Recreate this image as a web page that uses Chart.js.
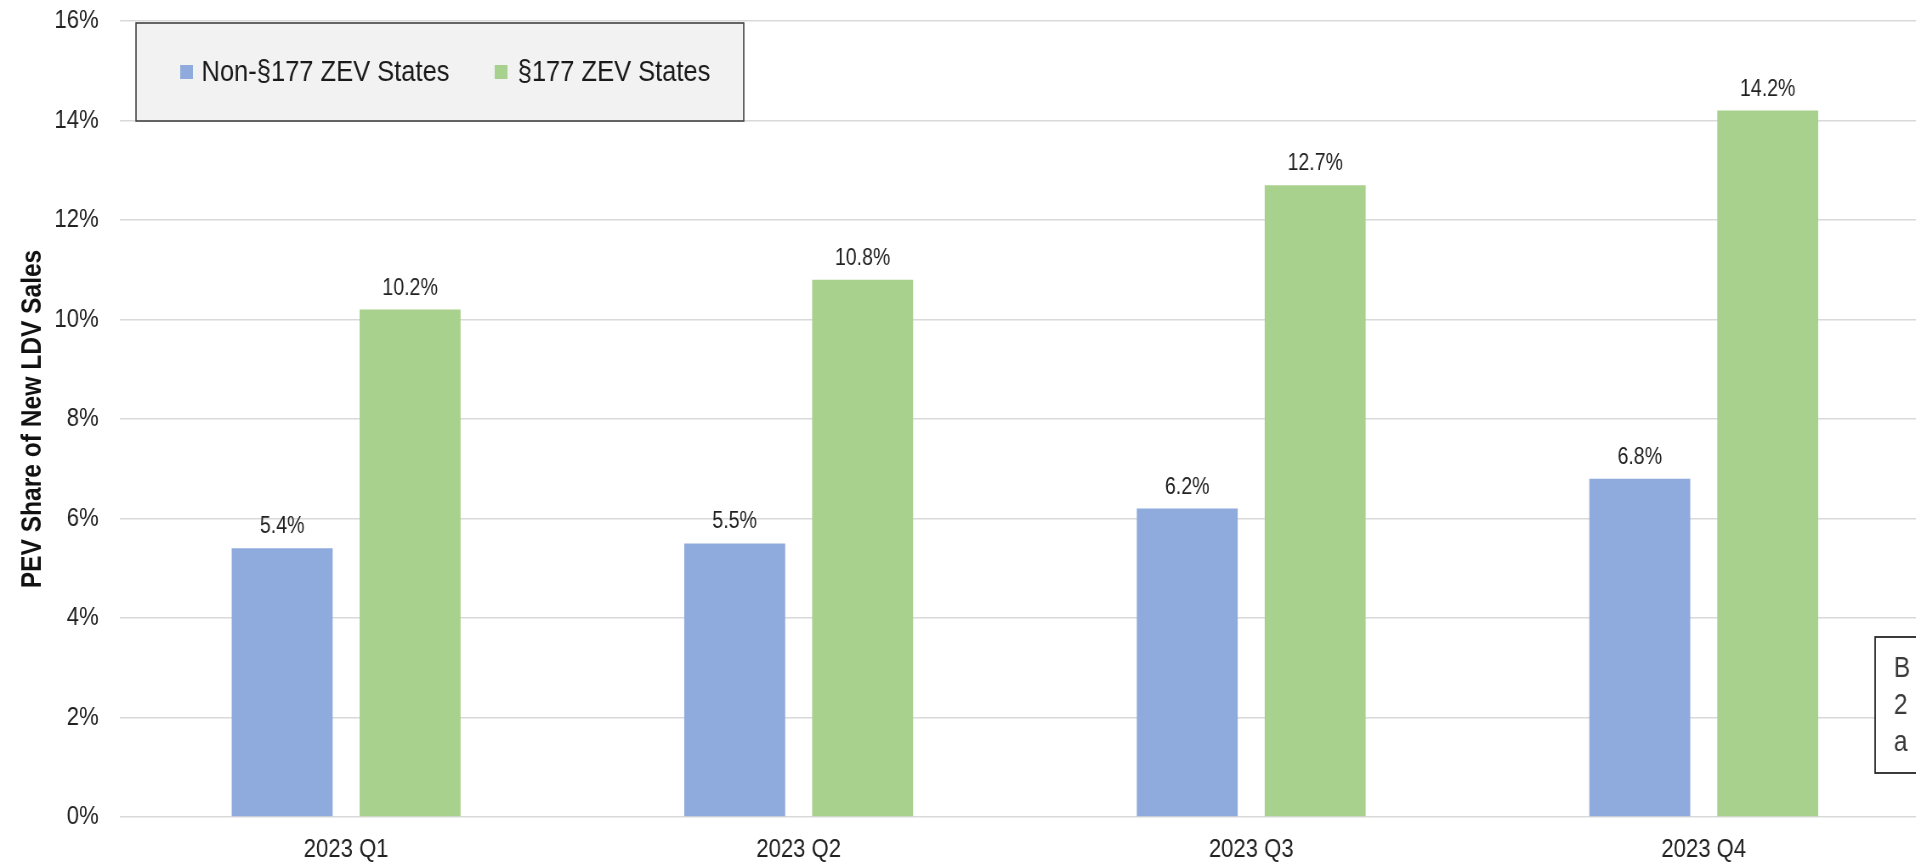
<!DOCTYPE html>
<html><head><meta charset="utf-8">
<script src="https://cdn.jsdelivr.net/npm/chart.js@4"></script>
<style>
html,body{margin:0;padding:0;overflow:hidden;background:#fff;width:1916px;height:862px}
#wrap{width:2276px;height:862px;position:absolute;left:0;top:0;transform:scaleX(0.85);transform-origin:0 0}
</style></head>
<body><div id="wrap"><canvas id="c"></canvas></div>
<script>
const categories = ['2023 Q1', '2023 Q2', '2023 Q3', '2023 Q4'];
const seriesNames = ['Non-§177 ZEV States', '§177 ZEV States'];
const nonZevValues = [5.4, 5.5, 6.2, 6.8];
const zevValues = [10.2, 10.8, 12.7, 14.2];
const yTickValues = [0, 2, 4, 6, 8, 10, 12, 14, 16];
const yAxisTitle = 'PEV Share of New LDV Sales';
const noteLines = ['B', '2', 'a'];

const SANS = '"Liberation Sans", Arial, sans-serif';

const overlayPlugin = {
  id: 'overlay',
  afterDatasetsDraw(chart) {
    const ctx = chart.ctx;
    ctx.save();
    // value labels
    ctx.font = '23px ' + SANS;
    ctx.fillStyle = '#222';
    ctx.textAlign = 'center';
    ctx.textBaseline = 'alphabetic';
    chart.data.datasets.forEach((ds, di) => {
      const meta = chart.getDatasetMeta(di);
      meta.data.forEach((bar, i) => {
        ctx.fillText(ds.data[i].toFixed(1) + '%', bar.x, bar.y - 15);
      });
    });
    // legend box
    const lx = 160, ly = 23, lw = 715, lh = 98;
    ctx.fillStyle = '#f2f2f2';
    ctx.fillRect(lx, ly, lw, lh);
    ctx.strokeStyle = '#404040';
    ctx.lineWidth = 1.6;
    ctx.strokeRect(lx, ly, lw, lh);
    ctx.font = '30px ' + SANS;
    ctx.textAlign = 'left';
    ctx.textBaseline = 'middle';
    const items = [{sx: 212, tx: 237}, {sx: 582, tx: 609}];
    chart.data.datasets.forEach((ds, di) => {
      const it = items[di];
      ctx.fillStyle = ds.backgroundColor;
      ctx.fillRect(it.sx, 65, 15, 14);
      ctx.fillStyle = '#1a1a1a';
      ctx.fillText(ds.label, it.tx, 73);
    });
    // y-axis title (narrow bold, rotated)
    const ca = chart.chartArea;
    ctx.save();
    ctx.translate(38.8, (ca.top + ca.bottom) / 2);
    ctx.rotate(-Math.PI / 2);
    ctx.scale(0.7225, 1);
    ctx.font = 'bold 34px ' + SANS;
    ctx.fillStyle = '#111';
    ctx.textAlign = 'center';
    ctx.textBaseline = 'middle';
    ctx.fillText(yAxisTitle, 0, 0);
    ctx.restore();
    // note box at right (clipped by window edge)
    ctx.fillStyle = '#fff';
    ctx.fillRect(2206, 637, 140, 136);
    ctx.strokeStyle = '#262626';
    ctx.lineWidth = 1.8;
    ctx.strokeRect(2206, 637, 140, 136);
    ctx.font = '29px ' + SANS;
    ctx.fillStyle = '#3a3a3a';
    ctx.textAlign = 'left';
    ctx.textBaseline = 'middle';
    noteLines.forEach((t, i) => ctx.fillText(t, 2228, 669 + i * 37));
    ctx.restore();
  }
};

new Chart(document.getElementById('c'), {
  type: 'bar',
  data: {
    labels: categories,
    datasets: [
      { label: seriesNames[0], data: nonZevValues, backgroundColor: '#8faadc',
        categoryPercentage: 0.5655, barPercentage: 0.789 },
      { label: seriesNames[1], data: zevValues, backgroundColor: '#a9d18e',
        categoryPercentage: 0.5655, barPercentage: 0.789 }
    ]
  },
  options: {
    responsive: true,
    maintainAspectRatio: false,
    animation: false,
    devicePixelRatio: 1,
    layout: { padding: { top: 21, right: 5.4, bottom: 0, left: 0 } },
    plugins: { legend: { display: false }, tooltip: { enabled: false } },
    scales: {
      x: {
        grid: { display: false, drawTicks: false },
        border: { display: false },
        ticks: { font: { family: SANS, size: 26 }, color: '#222', padding: 17 },
        afterFit(s) { s.height = 45; }
      },
      y: {
        min: 0, max: 16,
        afterBuildTicks(s) { s.ticks = yTickValues.map(v => ({ value: v })); },
        grid: { color: '#d9d9d9', lineWidth: 1.5, drawTicks: true, tickLength: 25,
          tickColor: 'rgba(0,0,0,0)' },
        border: { display: false },
        ticks: { font: { family: SANS, size: 26 }, color: '#222', padding: 0,
          callback: v => v + '%' },
        title: { display: false },
        afterFit(s) { s.width = 141; }
      }
    }
  },
  plugins: [overlayPlugin]
});
</script>
</body></html>
